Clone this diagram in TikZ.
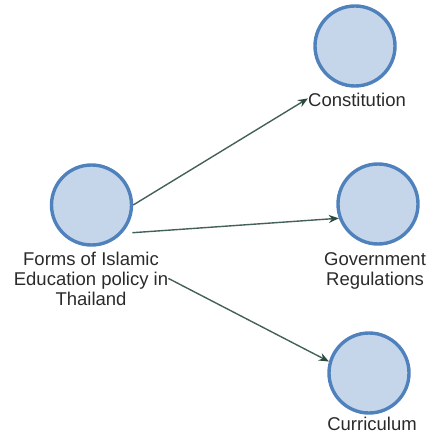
\documentclass[tikz,border=0pt]{standalone}
\usepackage{fontspec}
\setmainfont{Liberation Sans}
\usetikzlibrary{arrows.meta}
\definecolor{ringblue}{HTML}{4F81BD}
\definecolor{discfill}{HTML}{C6D6EA}
\definecolor{linkgray}{HTML}{44605A}
\definecolor{tipgreen}{HTML}{2C4A3E}
\definecolor{labelgray}{HTML}{2A2A2A}
\begin{document}
\begin{tikzpicture}[x=1pt,y=-1pt,
  disc/.style={circle,draw=ringblue,fill=discfill,line width=3.4pt,minimum size=80pt,inner sep=0pt},
  caption/.style={text=labelgray,align=center,inner sep=0pt,font=\fontsize{18.5}{20}\selectfont},
  link/.style={draw=linkgray,line width=1.4pt,-{Stealth[length=10pt,width=8pt,color=tipgreen]}}]
  \useasboundingbox (0,0) rectangle (432,435);
  % topic circle and its caption (base = baseline of the last line)
  \node[disc] (main) at (91.5,205) {};
  \node[caption,anchor=base] (mainlab) at (91,305) {Forms of Islamic\\Education policy in\\Thailand};
  % the three outcome circles
  \node[disc] (con) at (355,46) {};
  \node[caption,anchor=base] (conlab) at (357,107) {Constitution};
  \node[disc] (gov) at (378,204) {};
  \node[caption,anchor=base] (govlab) at (375,285) {Government\\Regulations};
  \node[disc] (cur) at (369,373) {};
  \node[caption,anchor=base] (curlab) at (372,430) {Curriculum};
  % connectors
  \draw[link] (main.east) -- ([yshift=2pt]conlab.west);
  \draw[link] ([xshift=6pt,yshift=-5pt]main.-33) -- (gov.200);
  \draw[link] (mainlab.east) -- (cur.164);
\end{tikzpicture}
\end{document}
